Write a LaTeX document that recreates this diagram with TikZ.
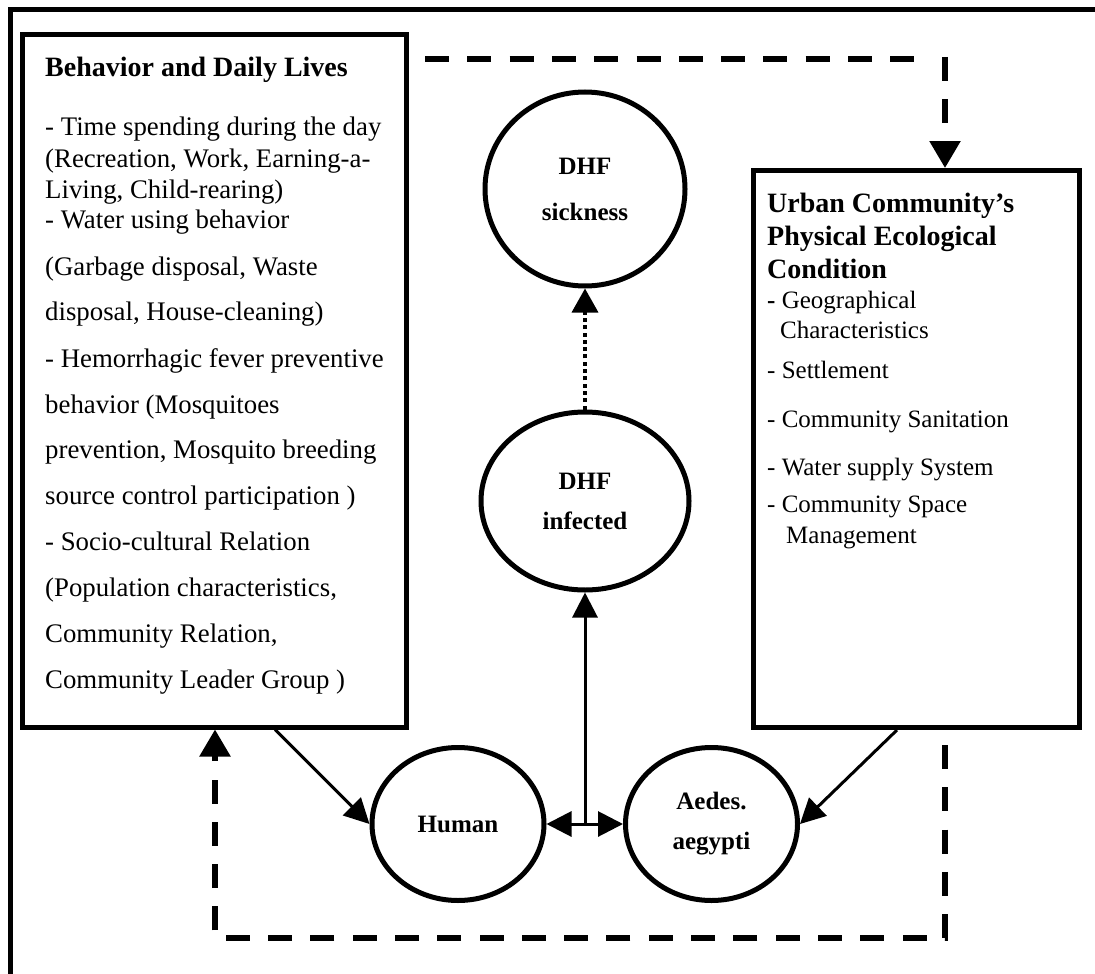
\documentclass[tikz,border=0pt]{standalone}
\usepackage{fontspec}
\setmainfont{Liberation Serif}
\usetikzlibrary{arrows.meta,shapes.geometric,calc}
\tikzset{
 boxnode/.style={draw, line width=5pt, inner sep=0pt},
 ellnode/.style={draw, ellipse, line width=5pt, inner sep=0pt, align=center},
 ef/.style={font=\fontsize{25}{40}\selectfont\bfseries},
 lt/.style={anchor=base west, inner sep=0pt, font=\fontsize{26.8}{31}\selectfont},
 rt/.style={anchor=base west, inner sep=0pt, font=\fontsize{25}{30}\selectfont},
 ttl/.style={anchor=base west, inner sep=0pt, font=\fontsize{28}{33}\selectfont\bfseries},
 arr/.style={line width=3pt, -{Triangle[length=25pt,width=25pt]}},
 dsh/.style={line width=5.5pt, dash pattern=on 24pt off 18.3pt},
 dtip/.style={-{Triangle[length=27pt,width=30pt]}},
 dotarr/.style={line width=3.5pt, dash pattern=on 4pt off 3.3pt, -{Triangle[length=24pt,width=26pt]}}
}
\begin{document}
\begin{tikzpicture}[x=1pt,y=-1pt]
\useasboundingbox (0,0) rectangle (1095,974);
\fill[white] (0,0) rectangle (1095,974);
% outer frame (only top and left visible)
\draw[line width=5pt] (10,974) -- (10,9.5) -- (1095,9.5);

% boxes
\node[boxnode, minimum width=384pt, minimum height=692pt] (L) at (214,381) {};
\node[boxnode, minimum width=326pt, minimum height=557pt] (R) at (916,449) {};

% left box text
\node[ttl] (lt0) at (45,77) {Behavior and Daily Lives};
\node[lt] (lt1) at (45,135) {- Time spending during the day};
\node[lt] (lt2) at (45,167) {(Recreation, Work, Earning-a-};
\node[lt] (lt3) at (45,198) {Living, Child-rearing)};
\node[lt] (lt4) at (45,228) {- Water using behavior};
\node[lt] (lt5) at (45,275) {(Garbage disposal, Waste};
\node[lt] (lt6) at (45,320) {disposal, House-cleaning)};
\node[lt] (lt7) at (45,367) {- Hemorrhagic fever preventive};
\node[lt] (lt8) at (45,413) {behavior (Mosquitoes};
\node[lt] (lt9) at (45,458) {prevention, Mosquito breeding};
\node[lt] (lt10) at (45,504) {source control participation )};
\node[lt] (lt11) at (45,550) {- Socio-cultural Relation};
\node[lt] (lt12) at (45,596) {(Population characteristics,};
\node[lt] (lt13) at (45,642) {Community Relation,};
\node[lt] (lt14) at (45,688) {Community Leader Group )};

% right box text
\node[ttl] (rt0) at (767,212) {Urban Community’s};
\node[ttl] (rt1) at (767,245) {Physical Ecological};
\node[ttl] (rt2) at (767,278) {Condition};
\node[rt] (rt3) at (767,308) {{\bfseries -} Geographical};
\node[rt] (rt4) at (780,338) {Characteristics};
\node[rt] (rt5) at (767,378) {- Settlement};
\node[rt] (rt6) at (767,427) {- Community Sanitation};
\node[rt] (rt7) at (767,475) {- Water supply System};
\node[rt] (rt8) at (767,512) {- Community Space};
\node[rt] (rt9) at (786,543) {Management};

% ellipses
\node[ellnode, minimum width=200pt, minimum height=194pt, font=\fontsize{25}{46}\selectfont\bfseries] (S) at (585,189) {DHF\\sickness};
\node[ellnode, ef, minimum width=208pt, minimum height=178pt] (I) at (585,501) {DHF\\infected};
\node[ellnode, ef, minimum width=172pt, minimum height=153pt] (H) at (458,824) {Human};
\node[ellnode, ef, minimum width=172pt, minimum height=153pt] (A) at (711.5,824) {Aedes.\\aegypti};

% solid connectors
\coordinate (J) at (585,824);
\draw[arr] (J) -- (I.south);
\draw[arr] (J) -- (H.east);
\draw[arr] (J) -- (A.west);
\draw[arr] ([xshift=61pt]L.south) -- (H.west);
\draw[arr] ([xshift=-19pt]R.south) -- (A.east);

% dotted connector
\draw[dotarr] (I.north) -- (S.south);

% dashed feedback paths
\coordinate (d1) at (425,59);
\coordinate (d2) at (918,59);
\coordinate (d3) at (945,57);
\draw[dsh] (d1) -- (d2);
\draw[dsh, dtip] (d3) -- (d3 |- R.north);
\coordinate (d4) at (945,745);
\coordinate (d5) at (945,938);
\coordinate (d6) at (215,938);
\draw[dsh, dtip] (d4) -- (d5) -- (d6) -- (d6 |- L.south);
\end{tikzpicture}
\end{document}
